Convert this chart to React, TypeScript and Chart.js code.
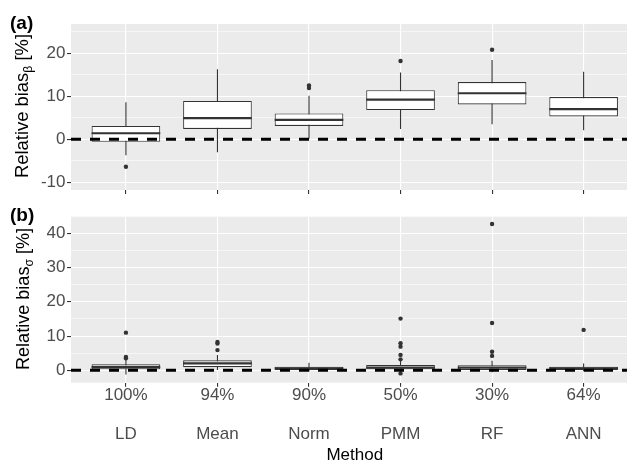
import React, { useEffect, useRef } from 'react';
import { Chart, registerables } from 'chart.js';

Chart.register(...registerables);

const FONT = '"Liberation Sans", Arial, Helvetica, sans-serif';

// ---------- data ----------
const methods = ['LD', 'Mean', 'Norm', 'PMM', 'RF', 'ANN'];
const missingPct = ['100%', '94%', '90%', '50%', '30%', '64%'];
const xTickValues = [1, 2, 3, 4, 5, 6];

// Panel (a): relative bias of beta [%]
const betaLowWhisker = [-3.7, -3.0, 0.2, 2.4, 3.5, 2.1];
const betaQ1 = [-0.6, 2.4, 3.1, 6.8, 8.1, 5.3];
const betaMedian = [1.4, 4.9, 4.5, 9.2, 10.7, 7.0];
const betaQ3 = [3.1, 8.9, 6.0, 11.4, 13.3, 9.8];
const betaHighWhisker = [8.6, 16.3, 10.1, 15.5, 18.4, 15.7];
const betaOutliers = [[-6.4], [], [12.5, 11.9], [18.2], [20.8], []];
const betaTicks = [-10, -5, 0, 5, 10, 15, 20, 25];

// Panel (b): relative bias of sigma [%]
const sigmaLowWhisker = [-1.2, 0.1, -0.3, -0.5, -0.6, -0.3];
const sigmaQ1 = [0.3, 0.9, 0.1, 0.3, 0.1, 0.1];
const sigmaMedian = [0.9, 2.0, 0.6, 0.8, 0.8, 0.6];
const sigmaQ3 = [1.75, 2.9, 1.05, 1.55, 1.5, 1.05];
const sigmaHighWhisker = [3.0, 4.5, 2.2, 2.7, 2.8, 2.0];
const sigmaOutliers = [
  [11.0, 3.9, 3.5],
  [8.3, 7.8, 5.9],
  [],
  [15.1, 7.9, 6.9, 4.5, 3.2, -0.9],
  [42.7, 13.8, 5.4, 4.2],
  [11.8],
];
const sigmaTicks = [0, 5, 10, 15, 20, 25, 30, 35, 40];

// ---------- layout ----------
const X_MIN = 0.4;
const X_MAX = 6.474;
const W = 631;

type Panel = {
  low: number[]; q1: number[]; med: number[]; q3: number[]; high: number[];
  outliers: number[][];
  yMin: number; yMax: number; yTicks: number[];
  letter: string; letterY: number;
  sub: string; titleLen: number; titleX: number; titleStartY: number;
  padTop: number; xAxisHeight: number; showXLabels: boolean;
  height: number;
};

const panelA: Panel = {
  low: betaLowWhisker, q1: betaQ1, med: betaMedian, q3: betaQ3, high: betaHighWhisker,
  outliers: betaOutliers,
  yMin: -11.8, yMax: 26.8, yTicks: betaTicks,
  letter: '(a)', letterY: 29,
  sub: 'β', titleLen: 144, titleX: 28, titleStartY: 178,
  padTop: 24, xAxisHeight: 10, showXLabels: false, height: 200,
};

const panelB: Panel = {
  low: sigmaLowWhisker, q1: sigmaQ1, med: sigmaMedian, q3: sigmaQ3, high: sigmaHighWhisker,
  outliers: sigmaOutliers,
  yMin: -3.62, yMax: 44.85, yTicks: sigmaTicks,
  letter: '(b)', letterY: 21,
  sub: 'σ', titleLen: 142, titleX: 29, titleStartY: 170,
  padTop: 16.7, xAxisHeight: 79.3, showXLabels: true, height: 262,
};

const isMajor = (v: number) => Math.abs(v % 10) < 1e-9;

function boxPlugin(p: Panel) {
  return {
    id: 'boxExtras',
    beforeDraw(chart: any) {
      const { ctx, chartArea: a } = chart;
      ctx.save();
      ctx.fillStyle = '#EBEBEB';
      ctx.fillRect(a.left, a.top, a.right - a.left, a.bottom - a.top);
      ctx.restore();
    },
    beforeDatasetsDraw(chart: any) {
      const { ctx, chartArea: a } = chart;
      const xs = chart.scales.x;
      const ys = chart.scales.y;
      ctx.save();
      ctx.beginPath();
      ctx.rect(a.left, a.top, a.right - a.left, a.bottom - a.top);
      ctx.clip();
      ctx.strokeStyle = '#333333';
      ctx.lineWidth = 1.1;
      ctx.beginPath();
      p.low.forEach((lo, i) => {
        const px = xs.getPixelForValue(i + 1);
        ctx.moveTo(px, ys.getPixelForValue(lo));
        ctx.lineTo(px, ys.getPixelForValue(p.high[i]));
      });
      ctx.stroke();
      ctx.restore();
    },
    afterDatasetDraw(chart: any, args: any) {
      if (args.index !== 0) return;
      const { ctx } = chart;
      const ys = chart.scales.y;
      ctx.save();
      ctx.strokeStyle = '#333333';
      ctx.lineWidth = 2.2;
      ctx.beginPath();
      args.meta.data.forEach((el: any, i: number) => {
        const { x, width } = el.getProps(['x', 'width'], true);
        const py = ys.getPixelForValue(p.med[i]);
        ctx.moveTo(x - width / 2, py);
        ctx.lineTo(x + width / 2, py);
      });
      ctx.stroke();
      ctx.restore();
    },
    afterDraw(chart: any) {
      const { ctx } = chart;
      ctx.save();
      // panel letter
      ctx.fillStyle = '#000';
      ctx.font = `bold 19px ${FONT}`;
      ctx.textBaseline = 'alphabetic';
      ctx.textAlign = 'left';
      ctx.fillText(p.letter, 10, p.letterY);
      // y axis title with subscript
      const main = 'Relative bias';
      const rest = ' [%]';
      ctx.font = `18px ${FONT}`;
      const mainW = ctx.measureText(main).width;
      const restW = ctx.measureText(rest).width;
      ctx.font = `12px ${FONT}`;
      const subW = ctx.measureText(p.sub).width;
      const s = p.titleLen / (mainW + subW + restW);
      ctx.translate(p.titleX, p.titleStartY);
      ctx.rotate(-Math.PI / 2);
      ctx.scale(s, 1);
      ctx.font = `18px ${FONT}`;
      ctx.fillText(main, 0, 0);
      ctx.font = `12px ${FONT}`;
      ctx.fillText(p.sub, mainW, 4);
      ctx.font = `18px ${FONT}`;
      ctx.fillText(rest, mainW + subW, 0);
      ctx.restore();
      if (p.showXLabels) {
        ctx.save();
        ctx.fillStyle = '#000';
        ctx.font = `17px ${FONT}`;
        ctx.textAlign = 'center';
        ctx.textBaseline = 'middle';
        const xs = chart.scales.x;
        const cx = (xs.getPixelForValue(X_MIN) + xs.getPixelForValue(6.6)) / 2;
        ctx.fillText('Method', cx, 255);
        ctx.restore();
      }
    },
  };
}

function buildConfig(p: Panel): any {
  const boxData = p.q1.map((q, i) => ({ x: i + 1, y: [q, p.q3[i]] }));
  const outlierData = p.outliers.flatMap((arr, i) => arr.map((v) => ({ x: i + 1, y: v })));
  const zeroData = [{ x: X_MIN, y: 0 }, { x: X_MAX, y: 0 }];
  return {
    type: 'bar',
    data: {
      datasets: [
        {
          type: 'bar', data: boxData, backgroundColor: '#FFFFFF', borderColor: '#333333',
          borderWidth: 1.1, borderSkipped: false, barPercentage: 0.75, categoryPercentage: 1, order: 3,
        },
        {
          type: 'scatter', data: outlierData, pointRadius: 2.2, pointBackgroundColor: '#333333',
          pointBorderWidth: 0, pointBorderColor: '#333333', order: 2,
        },
        {
          type: 'line', data: zeroData, borderColor: '#000000', borderWidth: 3, borderDash: [10, 9],
          borderCapStyle: 'butt', pointRadius: 0, fill: false, order: 1,
        },
      ],
    },
    options: {
      responsive: false,
      animation: false,
      events: [],
      plugins: { legend: { display: false }, tooltip: { enabled: false }, title: { display: false } },
      layout: { padding: { top: p.padTop, left: 0, right: 0, bottom: 0 } },
      scales: {
        x: {
          type: 'linear', min: X_MIN, max: X_MAX, offset: false,
          afterBuildTicks: (s: any) => { s.ticks = xTickValues.map((v) => ({ value: v })); },
          afterFit: (s: any) => { s.height = p.xAxisHeight; },
          grid: { color: '#FFFFFF', lineWidth: 1.1, offset: false, drawTicks: true, tickLength: 4, tickColor: '#333333', tickWidth: 1.1 },
          border: { display: false },
          ticks: {
            display: p.showXLabels, autoSkip: false, maxRotation: 0, minRotation: 0, padding: -1,
            color: '#4D4D4D', font: { family: FONT, size: 17, lineHeight: 1.144 },
            callback: (v: number) => {
              const i = Math.round(v) - 1;
              return [missingPct[i], '', methods[i]];
            },
          },
          title: { display: false },
        },
        y: {
          type: 'linear', min: p.yMin, max: p.yMax,
          afterBuildTicks: (s: any) => { s.ticks = p.yTicks.map((v) => ({ value: v })); },
          afterFit: (s: any) => { s.width = 71; },
          grid: {
            color: '#FFFFFF',
            lineWidth: (c: any) => (c.tick && isMajor(c.tick.value) ? 1.1 : 0.55),
            drawTicks: true, tickLength: 4,
            tickColor: (c: any) => (c.tick && isMajor(c.tick.value) ? '#333333' : 'rgba(0,0,0,0)'),
            tickWidth: 1.1,
          },
          border: { display: false },
          ticks: {
            autoSkip: false, padding: 1.5, color: '#4D4D4D',
            font: { family: FONT, size: 17, lineHeight: 1 },
            callback: (v: number) => (isMajor(v) ? String(v) : ''),
          },
          title: { display: false },
        },
      },
    },
    plugins: [boxPlugin(p)],
  };
}

export default function App() {
  const refA = useRef<HTMLCanvasElement>(null);
  const refB = useRef<HTMLCanvasElement>(null);
  useEffect(() => {
    const a = new Chart(refA.current as HTMLCanvasElement, buildConfig(panelA));
    const b = new Chart(refB.current as HTMLCanvasElement, buildConfig(panelB));
    return () => {
      a.destroy();
      b.destroy();
    };
  }, []);
  return (
    <div style={{ position: 'fixed', left: 0, top: 0, width: W, height: 462, background: '#FFFFFF', overflow: 'hidden' }}>
      <canvas ref={refA} width={W} height={panelA.height}
        style={{ position: 'absolute', left: 0, top: 0, width: W, height: panelA.height }} />
      <canvas ref={refB} width={W} height={panelB.height}
        style={{ position: 'absolute', left: 0, top: 200, width: W, height: panelB.height }} />
    </div>
  );
}
